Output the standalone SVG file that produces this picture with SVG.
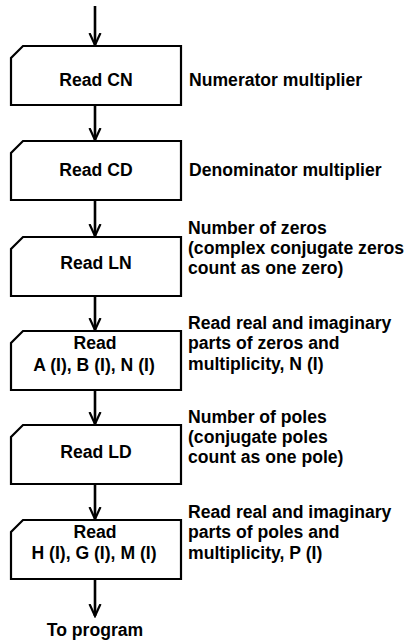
<svg xmlns="http://www.w3.org/2000/svg" width="405" height="642" viewBox="0 0 405 642">
<style>
.box{fill:#fff;stroke:#000;stroke-width:2.2;stroke-linejoin:miter}
.lbl{font-family:"Liberation Sans",Arial,Helvetica,sans-serif;font-weight:bold;font-size:17.6px;fill:#000}
.c{text-anchor:middle}
.wire{stroke:#000;stroke-width:2.6;fill:none}
</style>
<defs>
<marker id="ah" markerUnits="userSpaceOnUse" markerWidth="14" markerHeight="14" refX="12" refY="6.5" orient="auto" viewBox="0 0 14 13">
<path d="M0,1 L12,6.5 L0,12" fill="none" stroke="#000" stroke-width="2.2"/>
</marker>
</defs>
<rect width="405" height="642" fill="#fff"/>
<g id="connectors">
<line class="wire" x1="95" y1="6" x2="95" y2="45" marker-end="url(#ah)"/>
<line class="wire" x1="95" y1="105" x2="95" y2="140" marker-end="url(#ah)"/>
<line class="wire" x1="95" y1="200" x2="95" y2="236" marker-end="url(#ah)"/>
<line class="wire" x1="95" y1="296" x2="95" y2="330" marker-end="url(#ah)"/>
<line class="wire" x1="95" y1="390" x2="95" y2="424" marker-end="url(#ah)"/>
<line class="wire" x1="95" y1="484" x2="95" y2="519" marker-end="url(#ah)"/>
<line class="wire" x1="95" y1="579" x2="95" y2="616" marker-end="url(#ah)"/>
</g>
<g id="n1">
<path class="box" d="M23,46 H181 V105 H11 V58 Z"/>
<text class="lbl c" x="96" y="86">Read CN</text>
<text class="lbl" x="189" y="86">Numerator multiplier</text>
</g>
<g id="n2">
<path class="box" d="M23,141 H181 V200 H11 V153 Z"/>
<text class="lbl c" x="96" y="176">Read CD</text>
<text class="lbl" x="189" y="176">Denominator multiplier</text>
</g>
<g id="n3">
<path class="box" d="M23,237 H181 V296 H11 V249 Z"/>
<text class="lbl c" x="96" y="269">Read LN</text>
<text class="lbl" x="188" y="234">Number of zeros</text>
<text class="lbl" x="188" y="254">(complex conjugate zeros</text>
<text class="lbl" x="188" y="274">count as one zero)</text>
</g>
<g id="n4">
<path class="box" d="M23,331 H181 V390 H11 V343 Z"/>
<text class="lbl c" x="95" y="349">Read</text>
<text class="lbl c" x="94" y="371">A (I), B (I), N (I)</text>
<text class="lbl" x="188" y="329">Read real and imaginary</text>
<text class="lbl" x="188" y="349">parts of zeros and</text>
<text class="lbl" x="188" y="370">multiplicity, N (I)</text>
</g>
<g id="n5">
<path class="box" d="M23,425 H181 V484 H11 V437 Z"/>
<text class="lbl c" x="96" y="458">Read LD</text>
<text class="lbl" x="188" y="423">Number of poles</text>
<text class="lbl" x="188" y="443">(conjugate poles</text>
<text class="lbl" x="188" y="463">count as one pole)</text>
</g>
<g id="n6">
<path class="box" d="M23,520 H181 V579 H11 V532 Z"/>
<text class="lbl c" x="95" y="538">Read</text>
<text class="lbl c" x="94" y="559">H (I), G (I), M (I)</text>
<text class="lbl" x="188" y="518">Read real and imaginary</text>
<text class="lbl" x="188" y="538">parts of poles and</text>
<text class="lbl" x="188" y="559">multiplicity, P (I)</text>
</g>
<g id="n7">
<text class="lbl c" x="95" y="636">To program</text>
</g>
</svg>
